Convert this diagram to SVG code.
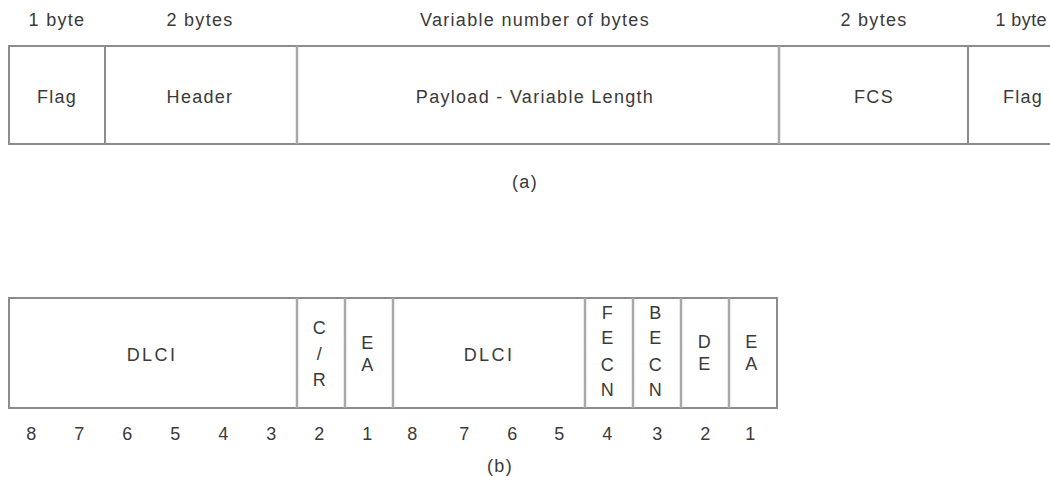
<svg xmlns="http://www.w3.org/2000/svg" width="1050" height="477" viewBox="0 0 1050 477">
<style>
text{font-family:"Liberation Sans",Arial,sans-serif;font-size:18px;letter-spacing:1.3px;fill:#3a3a3a;text-anchor:middle;dominant-baseline:central}
.w{letter-spacing:2.4px}
.ln{stroke:#8c8c8c;stroke-width:2;fill:none}
.dv{stroke:#a8a8a8;stroke-width:2.5;fill:none}
</style>
<rect width="1050" height="477" fill="#fff"/>
<g id="frame-a">
<text x="57" y="20">1 byte</text>
<text x="200" y="20">2 bytes</text>
<text x="535" y="20">Variable number of bytes</text>
<text x="874" y="20">2 bytes</text>
<text x="1047" y="20" style="text-anchor:end;letter-spacing:0.4px">1 byte</text>
<path class="ln" d="M1052 46H9V144H1052"/>
<path class="ln" d="M105 46V144M968 46V144"/>
<path class="dv" d="M297 46V144M779 46V144"/>
<text x="57" y="97">Flag</text>
<text x="200" y="97">Header</text>
<text x="535" y="97">Payload - Variable Length</text>
<text x="874" y="97">FCS</text>
<text x="1023" y="97">Flag</text>
<text x="525" y="182">(a)</text>
</g>
<g id="frame-b">
<rect class="ln" x="9" y="298" width="768" height="110"/>
<path class="dv" d="M297 298V408M345 298V408M393 298V408M585 298V408M633 298V408M681 298V408M729 298V408"/>
<text class="w" x="152" y="355">DLCI</text>
<text x="320" y="328">C</text>
<text x="320" y="354">/</text>
<text x="320" y="380">R</text>
<text x="368" y="343">E</text>
<text x="368" y="365">A</text>
<text class="w" x="489" y="355">DLCI</text>
<text x="608" y="313">F</text>
<text x="608" y="338">E</text>
<text x="608" y="365">C</text>
<text x="608" y="390">N</text>
<text x="656" y="313">B</text>
<text x="656" y="338">E</text>
<text x="656" y="365">C</text>
<text x="656" y="390">N</text>
<text x="705" y="342">D</text>
<text x="705" y="364">E</text>
<text x="752" y="342">E</text>
<text x="752" y="364">A</text>
<g id="bits">
<text x="32" y="434">8</text><text x="80" y="434">7</text><text x="128" y="434">6</text><text x="176" y="434">5</text>
<text x="224" y="434">4</text><text x="272" y="434">3</text><text x="320" y="434">2</text><text x="368" y="434">1</text>
<text x="413" y="434">8</text><text x="465" y="434">7</text><text x="513" y="434">6</text><text x="560" y="434">5</text>
<text x="608" y="434">4</text><text x="658" y="434">3</text><text x="706" y="434">2</text><text x="751" y="434">1</text>
</g>
<text x="500" y="466">(b)</text>
</g>
</svg>
